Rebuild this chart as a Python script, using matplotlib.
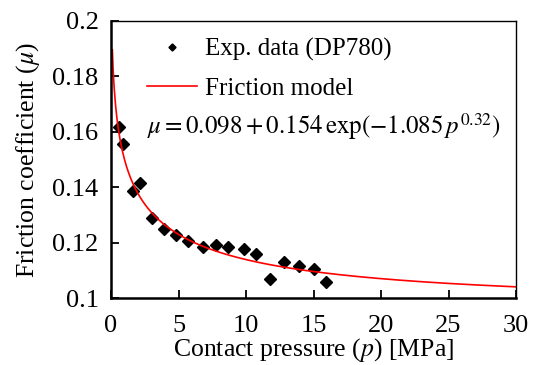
import numpy as np
import matplotlib
matplotlib.use("Agg")
import matplotlib.pyplot as plt

pressure = [0.61, 0.87, 1.63, 2.13, 3.01, 3.95, 4.84, 5.73, 6.79, 7.80,
            8.70, 9.84, 10.74, 11.76, 12.81, 13.90, 15.06, 15.95]
friction = [0.1617, 0.1555, 0.1388, 0.1417, 0.1289, 0.1251, 0.1228, 0.1206, 0.1185, 0.1191,
            0.1184, 0.1179, 0.1158, 0.1069, 0.1130, 0.1118, 0.1107, 0.1060]

# friction model parameters
mu0, a, b, n = 0.098, 0.154, 1.085, 0.32

plt.rcParams["font.family"] = ["Liberation Serif", "DejaVu Serif"]
plt.rcParams["mathtext.fontset"] = "stix"

fig = plt.figure(figsize=(5.35, 3.65), dpi=100)
ax = fig.add_axes([0.2075, 0.1827, 0.757, 0.7598])

p = np.linspace(0.1, 30, 600)
model = mu0 + a * np.exp(-b * p ** n)

ax.plot(pressure, friction, "D", color="black", markersize=6, label="Exp. data (DP780)")
ax.plot(p, model, color="red", linewidth=1.2, label="Friction model")

ax.set_xlim(0, 30)
ax.set_ylim(0.1, 0.2)
ax.set_xticks([0, 5, 10, 15, 20, 25, 30])
ax.set_yticks([0.1, 0.12, 0.14, 0.16, 0.18, 0.2])
ax.set_yticklabels(["0.1", "0.12", "0.14", "0.16", "0.18", "0.2"])
ax.tick_params(direction="in", length=6, width=1.3, labelsize=19)
ax.tick_params(axis="y", pad=9)
ax.tick_params(axis="x", pad=12)

ax.spines["left"].set_linewidth(1.8)
ax.spines["bottom"].set_linewidth(1.8)
ax.spines["top"].set_linewidth(1.0)
ax.spines["right"].set_linewidth(1.0)

ax.set_xlabel("Contact pressure ($p$) [MPa]", fontsize=18.5)
ax.xaxis.label.set_va("center")
ax.xaxis.set_label_coords(0.5, -0.186)
ax.set_ylabel("Friction coefficient ($\\mu$)", fontsize=18.5)
ax.yaxis.label.set_va("center")
ax.yaxis.set_label_coords(-0.205, 0.5)

ax.legend(loc="upper left", bbox_to_anchor=(0.089, 0.94), frameon=False, fontsize=18,
          markerscale=0.6, handlelength=2.0, handletextpad=0.3, labelspacing=0.68,
          borderaxespad=0, borderpad=0)
ax.text(0.089, 0.618, r"$\mu = 0.098 + 0.154\,\mathrm{exp}(-1.085\,p^{0.32})$",
        transform=ax.transAxes, fontsize=18, va="center")

fig.savefig("out.png", dpi=100)
